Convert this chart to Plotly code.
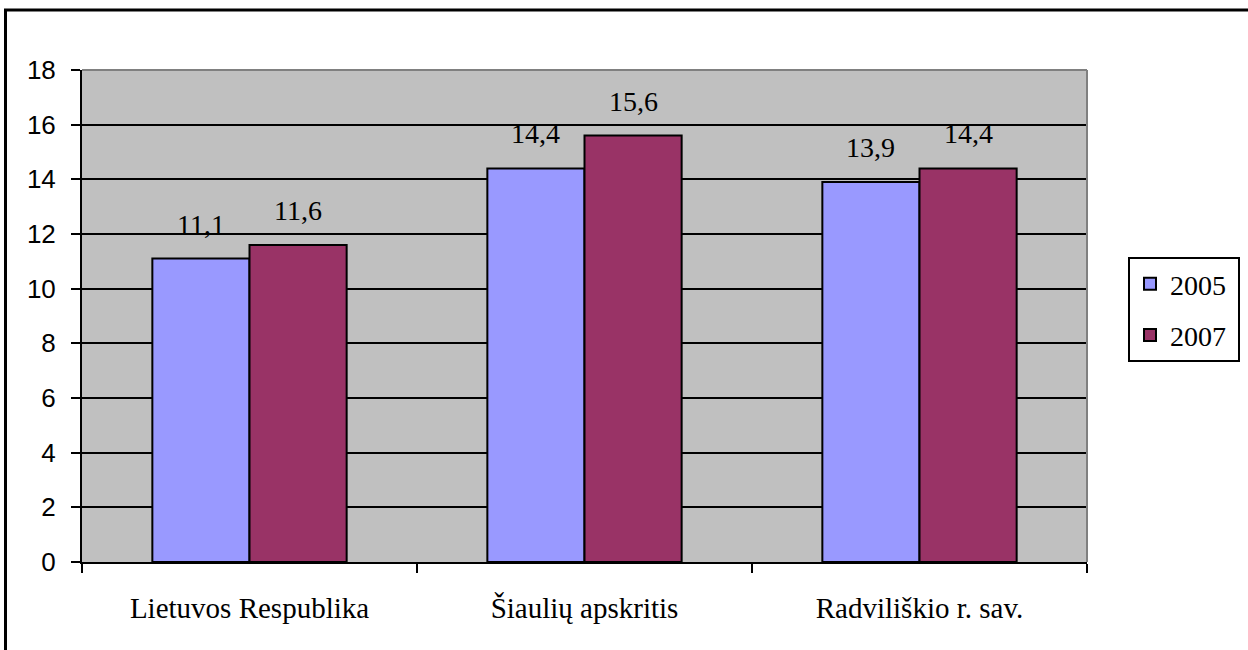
import plotly.graph_objects as go

categories = ["Lietuvos Respublika", "Šiaulių apskritis", "Radviliškio r. sav."]
series_names = ["2005", "2007"]
values_2005 = [11.1, 14.4, 13.9]
values_2007 = [11.6, 15.6, 14.4]
y_ticks = [0, 2, 4, 6, 8, 10, 12, 14, 16, 18]

colors = {"2005": "#9999FF", "2007": "#993366"}
serif = "Liberation Serif, Times New Roman, serif"
sans = "Liberation Sans, Arial, sans-serif"

def fmt(v):
    return f"{v:.1f}".replace(".", ",")

L, R, T, B = 82, 1087, 70, 562
W, H = 1248, 650
BARGAP = 0.42
bar_px = (R - L) / len(categories) * (1 - BARGAP) / 2

fig = go.Figure()
for name, vals in zip(series_names, [values_2005, values_2007]):
    fig.add_trace(go.Bar(
        x=categories, y=vals, name=name + "\u00a0", legendgroup=name,
        marker=dict(color=colors[name], line=dict(color="black", width=2)),
        cliponaxis=False,
    ))

annotations = []
for i, (name, vals) in enumerate(zip(series_names, [values_2005, values_2007])):
    shift = (i - 0.5) * bar_px
    for c, v in zip(categories, vals):
        annotations.append(dict(
            x=c, y=v, xref="x", yref="y", text=fmt(v), showarrow=False,
            xanchor="center", yanchor="bottom", xshift=shift, yshift=17,
            font=dict(family=serif, size=28, color="black"),
        ))

fig.update_layout(
    width=W, height=H,
    margin=dict(l=L, r=W - R, t=T, b=H - B, autoexpand=False),
    paper_bgcolor="white", plot_bgcolor="#C0C0C0",
    barmode="group", bargap=BARGAP, bargroupgap=0,
    showlegend=True,
    legend=dict(
        x=(1128 - L) / (R - L), y=(B - 257) / (B - T), xanchor="left", yanchor="top",
        bordercolor="black", borderwidth=2, bgcolor="white",
        font=dict(family=serif, size=28, color="black"),
        itemwidth=30, tracegroupgap=12,
    ),
    xaxis=dict(
        showline=True, linecolor="black", linewidth=2,
        ticks="outside", tickson="boundaries", ticklen=9, tickwidth=2, tickcolor="black",
        tickfont=dict(family=serif, size=29, color="black"),
        ticklabelstandoff=19,
        showgrid=False,
    ),
    yaxis=dict(
        range=[0, 18], tickvals=y_ticks, ticktext=[str(v) for v in y_ticks],
        showline=True, linecolor="black", linewidth=2,
        ticks="outside", ticklen=9, tickwidth=2, tickcolor="black",
        tickfont=dict(family=sans, size=26, color="black"),
        ticklabelstandoff=10,
        showgrid=True, gridcolor="black", gridwidth=2,
        zeroline=False,
    ),
    annotations=annotations,
    shapes=[
        dict(type="line", xref="paper", yref="paper", x0=0, x1=1, y0=1, y1=1,
             line=dict(color="#808080", width=2), layer="above"),
        dict(type="line", xref="paper", yref="paper", x0=1, x1=1, y0=0, y1=1,
             line=dict(color="#808080", width=2), layer="above"),
        dict(type="rect", xref="paper", yref="paper",
             x0=(5.5 - L) / (R - L), x1=(1262 - L) / (R - L),
             y0=(B - 670) / (B - T), y1=(B - 10) / (B - T),
             line=dict(color="black", width=3), layer="above"),
    ],
)

fig.write_html("out.html", config={"displayModeBar": False},
               post_script="document.body.style.margin='0';")
